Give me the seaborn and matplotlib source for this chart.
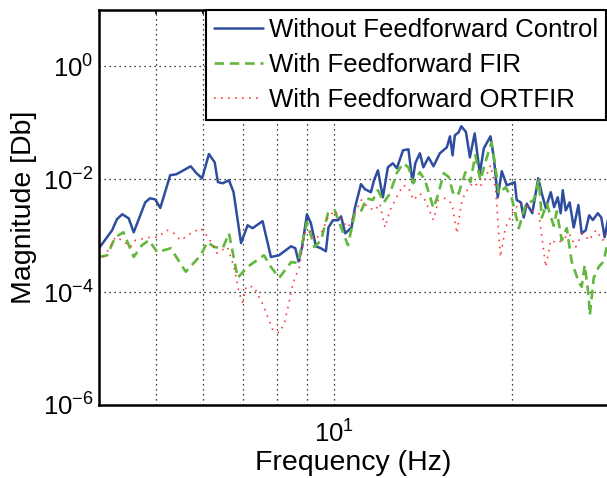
import matplotlib
matplotlib.use("Agg")
import matplotlib.pyplot as plt
import seaborn as sns
from matplotlib.ticker import FixedLocator, NullFormatter, NullLocator, LogFormatterSciNotation

# ---- data ----
freq_without = [4.0, 4.21, 4.29, 4.38, 4.49, 4.58, 4.79, 4.88, 4.98, 5.08, 5.28, 5.41, 5.72, 5.85,
                5.98, 6.14, 6.28, 6.36, 6.48, 6.64, 6.76, 6.96, 7.14, 7.28, 7.57, 7.82, 8.07, 8.46,
                8.6, 8.71, 8.83, 9.00, 9.14, 9.32, 9.5, 9.69, 9.79, 9.96, 10.16, 10.28, 10.45, 10.71,
                10.85, 11.11, 11.28, 11.55, 11.69, 11.87, 12.10, 12.34, 12.58, 12.78, 13.09, 13.37,
                13.58, 13.73, 13.98, 14.17, 14.46, 14.74, 15.11, 15.53, 15.72, 15.88, 16.02, 16.26,
                16.43, 16.73, 16.99, 17.31, 17.66, 17.94, 18.41, 18.65, 18.94, 19.24, 19.62, 20.24,
                20.39, 20.72, 20.96, 21.21, 21.67, 22.18, 22.49, 22.84, 23.29, 23.60, 23.93, 24.21,
                24.40, 24.69, 25.07, 25.47, 25.94, 26.27, 26.69, 27.05, 27.44, 27.98, 28.36, 28.74,
                29.31]
mag_without = [6.0e-4, 1.25e-3, 1.96e-3, 2.4e-3, 2.04e-3, 1.15e-3, 3.9e-3, 4.6e-3, 4.4e-3, 3.1e-3,
               1.18e-2, 1.23e-2, 1.7e-2, 1.28e-2, 1.04e-2, 2.8e-2, 2.0e-2, 8.9e-3, 8.5e-3, 9.6e-3,
               5.9e-3, 7.4e-4, 1.53e-3, 1.36e-3, 1.81e-3, 4.2e-4, 4.5e-4, 6.5e-4, 6.0e-4, 3.5e-4,
               6.3e-4, 2.4e-3, 1.66e-3, 6.5e-4, 6.0e-4, 5.3e-4, 1.41e-3, 1.88e-3, 1.88e-3, 2.2e-3,
               1.1e-3, 1.4e-3, 3.1e-3, 8.2e-3, 6.7e-3, 5.9e-3, 9.6e-3, 1.44e-2, 4.8e-3, 1.63e-2,
               1.92e-2, 1.57e-2, 3.26e-2, 3.4e-2, 8.9e-3, 1.92e-2, 2.89e-2, 1.63e-2, 2.45e-2, 1.7e-2,
               2.89e-2, 3.68e-2, 5.77e-2, 2.66e-2, 6.0e-2, 6.8e-2, 8.7e-2, 6.9e-2, 2.45e-2, 6.5e-2,
               1.28e-2, 3.54e-2, 5.77e-2, 2.45e-2, 4.8e-3, 1.39e-2, 7.8e-3, 8.9e-3, 4.3e-3, 3.9e-3,
               2.1e-3, 3.7e-3, 2.5e-3, 1.04e-2, 5.6e-3, 3.1e-3, 5.9e-3, 3.2e-3, 4.8e-3, 2.5e-3,
               6.4e-3, 2.8e-3, 3.9e-3, 1.4e-3, 3.5e-3, 1.1e-3, 1.25e-3, 2.3e-3, 1.9e-3, 2.5e-3,
               2.1e-3, 9.4e-4, 2.8e-3]

freq_fir = [4.0, 4.13, 4.26, 4.40, 4.58, 4.73, 4.86, 5.02, 5.29, 5.61, 5.95, 6.10, 6.27, 6.48, 6.64,
            6.87, 7.14, 7.61, 7.82, 8.08, 8.46, 8.69, 9.00, 9.27, 9.51, 9.77, 10.03, 10.28, 10.56,
            10.85, 11.13, 11.35, 11.64, 11.87, 12.15, 12.44, 12.77, 13.09, 13.37, 13.63, 13.98,
            14.26, 14.74, 15.03, 15.34, 15.64, 15.95, 16.26, 16.69, 17.02, 17.35, 17.70, 18.15,
            18.48, 18.77, 19.02, 19.52, 19.99, 20.56, 21.11, 21.80, 22.23, 22.49, 22.93, 23.56,
            23.84, 24.31, 24.79, 25.07, 25.27, 25.97, 26.27, 26.59, 27.01, 27.12, 27.54, 28.08,
            28.63, 28.96, 29.31]
mag_fir = [4.2e-4, 4.5e-4, 9.4e-4, 1.15e-3, 4.2e-4, 6.8e-4, 8.3e-4, 5.1e-4, 6.0e-4, 2.3e-4, 4.5e-4,
           7.7e-4, 6.3e-4, 6.0e-4, 1.1e-3, 1.8e-4, 2.8e-4, 4.5e-4, 2.8e-4, 1.8e-4, 3.4e-4, 3.3e-4,
           1.74e-3, 6.3e-4, 8.3e-4, 2.5e-3, 2.8e-3, 1.4e-3, 6.8e-4, 2.5e-3, 2.8e-3, 4.6e-3, 4.3e-3,
           6.4e-3, 3.9e-3, 5.6e-3, 1.28e-2, 1.92e-2, 1.63e-2, 8.5e-3, 1.33e-2, 9.6e-3, 3.1e-3,
           5.6e-3, 1.28e-2, 1.1e-2, 5.2e-3, 5.6e-3, 1.33e-2, 8.9e-3, 2.66e-2, 9.6e-3, 2.45e-2,
           4.5e-2, 1.63e-2, 5.6e-3, 7.2e-3, 4.8e-3, 1.36e-3, 3.5e-3, 4.3e-3, 9.6e-3, 2.1e-3, 3.7e-3,
           1.5e-3, 2.7e-3, 8.3e-4, 1.36e-3, 6.0e-4, 3.5e-4, 1.5e-4, 1.25e-4, 3.0e-4, 8.2e-5, 3.9e-5,
           1.8e-4, 2.8e-4, 3.5e-4, 6.3e-4, 7.4e-4]

freq_ortfir = [4.0, 4.18, 4.26, 4.38, 4.52, 4.61, 4.88, 5.02, 5.22, 5.36, 5.50, 5.72, 5.95, 6.14,
               6.34, 6.60, 6.77, 6.91, 7.00, 7.10, 7.32, 7.61, 7.88, 8.08, 8.24, 8.41, 8.52, 8.74,
               8.92, 9.09, 9.27, 9.51, 9.77, 10.03, 10.28, 10.56, 10.85, 11.13, 11.41, 11.73, 11.96,
               12.20, 12.44, 12.77, 13.09, 13.37, 13.63, 13.98, 14.26, 14.74, 15.03, 15.43, 15.84,
               16.15, 16.47, 16.92, 17.25, 17.59, 17.94, 18.41, 18.77, 19.14, 19.52, 20.04, 20.56,
               21.11, 21.67, 22.23, 22.84, 23.29, 23.89, 24.38, 25.02, 25.67, 26.36, 27.05, 27.78,
               28.51, 29.31]
mag_ortfir = [3.3e-4, 6.3e-4, 9.4e-4, 8.3e-4, 6.3e-4, 8.3e-4, 9.4e-4, 9.4e-4, 1.25e-3, 1.1e-3,
              8.3e-4, 1.1e-3, 1.36e-3, 9.0e-4, 4.9e-4, 6.3e-4, 2.8e-4, 9.6e-5, 6.6e-5, 1.25e-4,
              1.25e-4, 5.5e-5, 2.1e-5, 1.9e-5, 2.8e-5, 7.2e-5, 1.44e-4, 2.8e-4, 1.1e-3, 1.25e-3,
              8.3e-4, 1.1e-3, 2.1e-3, 2.8e-3, 1.9e-3, 1.4e-3, 2.5e-3, 4.3e-3, 3.2e-3, 2.8e-3, 3.7e-3,
              1.4e-3, 2.8e-3, 4.8e-3, 7.8e-3, 7.2e-3, 4.3e-3, 5.6e-3, 4.3e-3, 1.9e-3, 4.3e-3, 4.6e-3,
              3.7e-3, 1.1e-3, 4.3e-3, 7.2e-3, 8.9e-3, 7.2e-3, 8.9e-3, 1.77e-2, 7.2e-3, 4.2e-4, 1.4e-3,
              2.5e-3, 3.7e-3, 3.7e-3, 2.8e-3, 2.5e-3, 2.8e-4, 8.3e-4, 7.4e-4, 8.3e-4, 1.1e-3, 6.3e-4,
              1.1e-3, 8.3e-4, 1.25e-3, 8.3e-4, 1.25e-3]

labels = ["Without Feedforward Control", "With Feedforward FIR", "With Feedforward ORTFIR"]
x_ticks = [10]
x_minor = [5, 6, 7, 8, 9, 20]
y_ticks = [1e-6, 1e-4, 1e-2, 1e0]

# ---- style ----
sns.set_theme(style="white")
plt.rcParams["font.family"] = ["Liberation Sans", "DejaVu Sans"]
plt.rcParams["mathtext.fontset"] = "custom"
plt.rcParams["mathtext.rm"] = "Liberation Sans"
plt.rcParams["mathtext.it"] = "Liberation Sans:italic"
plt.rcParams["mathtext.bf"] = "Liberation Sans:bold"

W, H = 607, 478
fig = plt.figure(figsize=(W / 100, H / 100), dpi=100)
ax = fig.add_axes([99 / W, 1 - 405 / H, 1 - 99 / W, (405 - 10) / H])

sns.lineplot(x=freq_without, y=mag_without, ax=ax, color="#2f4d9e", lw=1.8,
             label=labels[0], sort=False, estimator=None)
sns.lineplot(x=freq_fir, y=mag_fir, ax=ax, color="#62b83c", lw=1.9,
             linestyle=(0, (3.6, 2.2)), label=labels[1], sort=False, estimator=None)
sns.lineplot(x=freq_ortfir, y=mag_ortfir, ax=ax, color="#ff3b3b", lw=1.2,
             linestyle=(0, (1.0, 3.2)), label=labels[2], sort=False, estimator=None)

ax.set_xscale("log")
ax.set_yscale("log")
ax.set_xlim(4, 29.0)
ax.set_ylim(1e-6, 10)

ax.xaxis.set_major_locator(FixedLocator(x_ticks))
ax.xaxis.set_minor_locator(FixedLocator(x_minor))
ax.xaxis.set_minor_formatter(NullFormatter())
ax.yaxis.set_major_locator(FixedLocator(y_ticks))
ax.yaxis.set_minor_locator(NullLocator())
ax.xaxis.set_major_formatter(LogFormatterSciNotation())
ax.yaxis.set_major_formatter(LogFormatterSciNotation())

ax.grid(False)
ax.grid(which="both", axis="x", linestyle=(0, (1, 3)), color="black", lw=0.9)
ax.grid(which="major", axis="y", linestyle=(0, (1, 3)), color="black", lw=0.9)

ax.tick_params(axis="both", which="both", direction="in", top=True, right=False,
               labelsize=18.5, colors="black", width=1.2)
ax.tick_params(axis="y", which="major", length=5, pad=4)
ax.tick_params(axis="x", which="major", length=5, pad=11)
ax.tick_params(axis="both", which="minor", length=3)

for side in ["left", "bottom", "top"]:
    ax.spines[side].set_visible(True)
    ax.spines[side].set_color("black")
    ax.spines[side].set_linewidth(1.8)
ax.spines["right"].set_visible(False)

ax.set_xlabel("Frequency (Hz)", fontsize=20.5, color="black", labelpad=1.5)
ax.set_ylabel("Magnitude [Db]", fontsize=20.5, color="black", labelpad=4)

leg = ax.legend(loc="upper left", bbox_to_anchor=((206 - 99) / (W - 99), 1.0),
                borderaxespad=0, fontsize=18.5, frameon=True, fancybox=False,
                framealpha=1, edgecolor="black", handlelength=1.9, handletextpad=0.25,
                borderpad=0.3, labelspacing=0.43)
leg.get_frame().set_linewidth(1.5)
for t in leg.get_texts():
    t.set_color("black")

fig.savefig("out.png", dpi=100)
